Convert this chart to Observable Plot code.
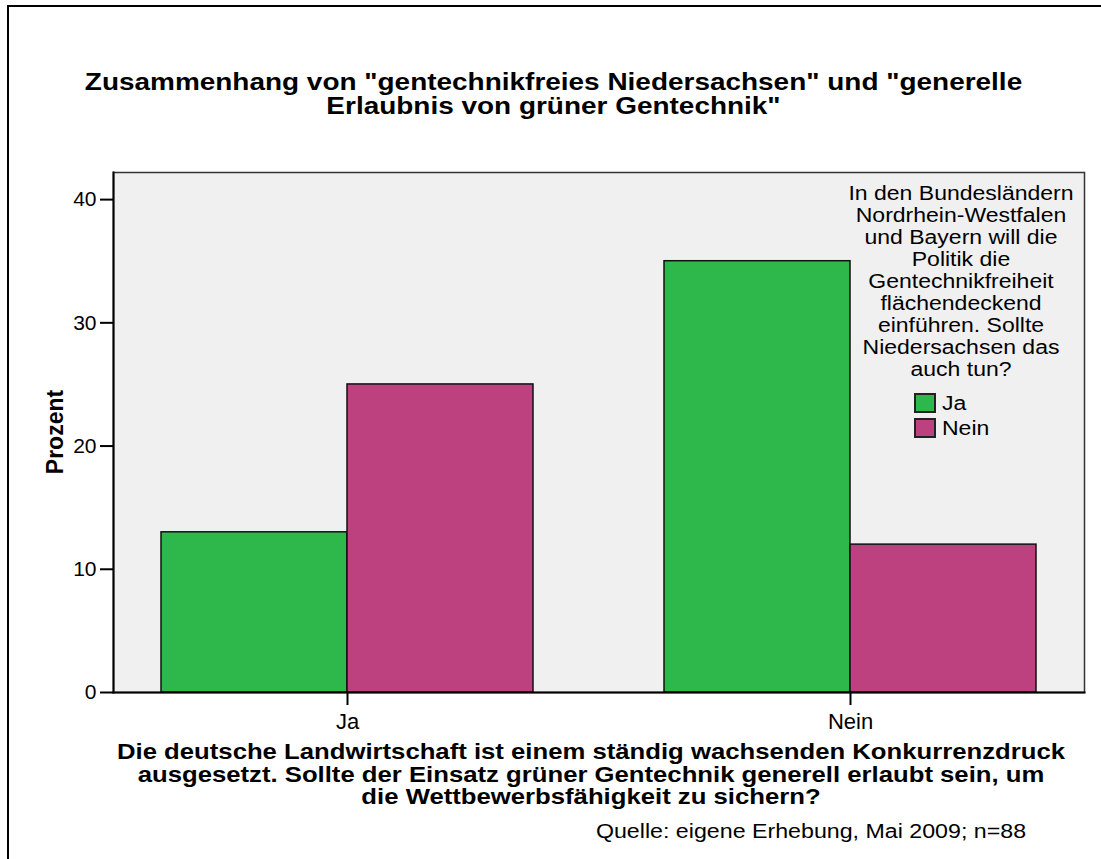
<!DOCTYPE html>
<html>
<head>
<meta charset="utf-8">
<script src="https://cdn.jsdelivr.net/npm/d3@7"></script>
<script src="https://cdn.jsdelivr.net/npm/@observablehq/plot@0.6"></script>
<style>
  html, body { margin: 0; padding: 0; background: #fff; }
  body { width: 1101px; height: 859px; position: relative; overflow: hidden;
         font-family: "Liberation Sans", Arial, Helvetica, sans-serif; color: #000; }
  .abs { position: absolute; }
  .outer { left: 7px; top: 5px; width: 1200px; height: 1000px; border-left: 2px solid #000; border-top: 2px solid #000; }
  .stretch { transform-origin: 50% 50%; white-space: nowrap; text-align: center; }
  #title { left: 0; width: 1107px; top: 70px; font-weight: bold; font-size: 23px; line-height: 24px; transform: scaleX(1.215); }
  #xlabel { left: 0; width: 1182px; top: 741px; font-weight: bold; font-size: 21.5px; line-height: 22.5px; transform: scaleX(1.195); }
  #caption { left: 611px; width: 400px; top: 820px; font-size: 20px; line-height: 22px; transform: scaleX(1.16); }
  #ylabel { left: 55px; top: 432px; font-weight: bold; font-size: 23px; transform: translate(-50%, -50%) rotate(-90deg); white-space: nowrap; }
  #legendTitle { left: 761px; width: 400px; top: 182px; font-size: 20px; line-height: 22px; transform: scaleX(1.15); }
  .swrow { left: 914px; height: 20px; display: flex; align-items: center; font-size: 20px; }
  .sw { width: 22px; height: 20px; box-sizing: border-box; border: 2px solid #222; margin-right: 6px; }
  .swlab { transform: scaleX(1.15); transform-origin: 0 50%; }
  #chart { left: 0; top: 150px; }
</style>
</head>
<body>
<div class="abs outer"></div>
<div id="title" class="abs stretch"></div>
<div id="chart" class="abs"></div>
<div id="ylabel" class="abs"></div>
<div id="legendTitle" class="abs stretch"></div>
<div id="legendRows"></div>
<div id="xlabel" class="abs stretch"></div>
<div id="caption" class="abs stretch"></div>
<script>
// ---- data ----
const categories = ["Ja", "Nein"];           // answers on the x axis
const series = ["Ja", "Nein"];               // legend groups
const valuesJa = [13, 35];                   // Prozent, legend "Ja"
const valuesNein = [25, 12];                 // Prozent, legend "Nein"
const colors = ["#2eb84b", "#bc417e"];
const yTicks = [0, 10, 20, 30, 40];
const titleLines = ["Zusammenhang von \"gentechnikfreies Niedersachsen\" und \"generelle", "Erlaubnis von grüner Gentechnik\""];
const xLabelLines = ["Die deutsche Landwirtschaft ist einem ständig wachsenden Konkurrenzdruck", "ausgesetzt. Sollte der Einsatz grüner Gentechnik generell erlaubt sein, um", "die Wettbewerbsfähigkeit zu sichern?"];
const legendTitleLines = ["In den Bundesländern", "Nordrhein-Westfalen", "und Bayern will die", "Politik die", "Gentechnikfreiheit", "flächendeckend", "einführen. Sollte", "Niedersachsen das", "auch tun?"];
const yLabel = "Prozent";
const caption = "Quelle: eigene Erhebung, Mai 2009; n=88";

const data = categories.flatMap((c, i) => [
  {cat: c, ser: series[0], v: valuesJa[i]},
  {cat: c, ser: series[1], v: valuesNein[i]}
]);

document.getElementById("title").innerHTML = titleLines.join("<br>");
document.getElementById("xlabel").innerHTML = xLabelLines.join("<br>");
document.getElementById("legendTitle").innerHTML = legendTitleLines.join("<br>");
document.getElementById("ylabel").textContent = yLabel;
document.getElementById("caption").textContent = caption;

const rows = document.getElementById("legendRows");
series.forEach((s, i) => {
  const r = document.createElement("div");
  r.className = "abs swrow";
  r.style.top = (393 + i * 25) + "px";
  const sw = document.createElement("div");
  sw.className = "sw";
  sw.style.background = colors[i];
  const lab = document.createElement("span");
  lab.className = "swlab";
  lab.textContent = s;
  r.appendChild(sw); r.appendChild(lab);
  rows.appendChild(r);
});

const font = "'Liberation Sans', Arial, Helvetica, sans-serif";
const chart = Plot.plot({
  width: 1101,
  height: 590,
  marginLeft: 113,
  marginRight: 17,
  marginTop: 22,
  marginBottom: 48,
  style: {fontFamily: font, background: "transparent", color: "#000"},
  fx: {domain: categories, paddingInner: 0.0696, paddingOuter: 0, label: null},
  x: {domain: series, paddingInner: 0, paddingOuter: 0.258, axis: null},
  y: {domain: [0, 42.2], label: null},
  color: {domain: series, range: colors},
  marks: [
    Plot.frame({facet: "super", fill: "#f0f0f0", stroke: "#333", strokeWidth: 1.5}),
    Plot.barY(data, {fx: "cat", x: "ser", y: "v", fill: "ser", stroke: "#111", strokeWidth: 1.5}),
    Plot.frame({facet: "super", anchor: "left", stroke: "#000", strokeWidth: 2}),
    Plot.frame({facet: "super", anchor: "bottom", stroke: "#000", strokeWidth: 2}),
    Plot.axisY({ticks: yTicks, tickSize: 13, tickPadding: 4, fontSize: 21, label: null, stroke: "#000", strokeWidth: 2, strokeOpacity: 1}),
    Plot.axisFx({anchor: "bottom", tickSize: 13, tickPadding: 8, fontSize: 22, label: null, stroke: "#000", strokeWidth: 2, strokeOpacity: 1})
  ]
});
document.getElementById("chart").appendChild(chart);
</script>
</body>
</html>
